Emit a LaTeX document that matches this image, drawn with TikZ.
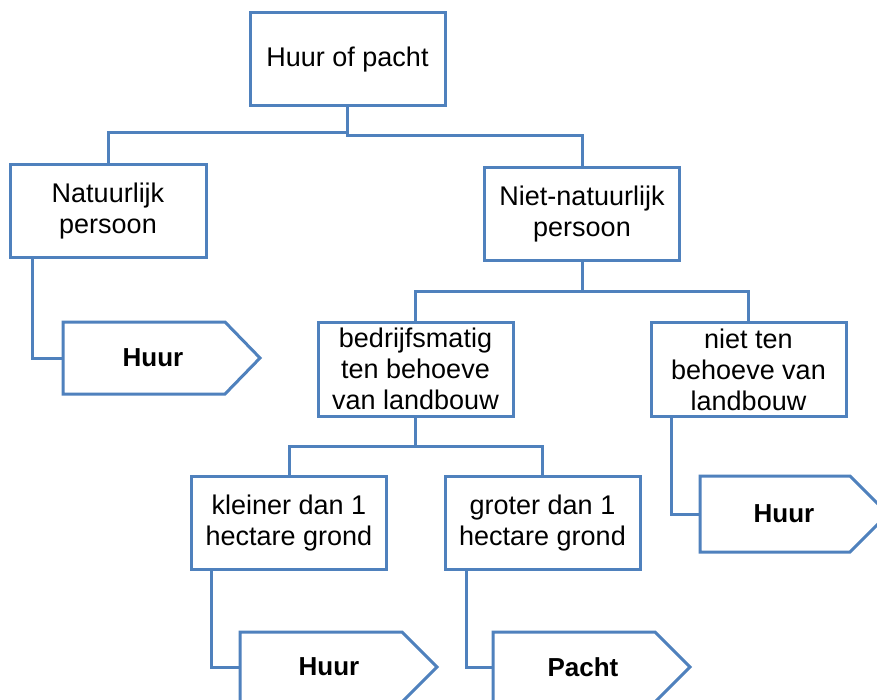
\documentclass[tikz,border=0pt]{standalone}
\usepackage{fontspec}
\setmainfont{Liberation Sans}
\definecolor{boxblue}{RGB}{79,129,189}
\tikzset{
  box/.style={rectangle, draw=boxblue, fill=white, line width=3pt, outer sep=0pt,
    minimum width=195pt, minimum height=93pt, inner sep=0pt, align=center,
    font=\fontsize{27}{31}\selectfont},
  pentbody/.style={rectangle, outer sep=0pt, inner sep=0pt, align=center,
    font=\fontsize{26}{30}\selectfont\bfseries},
  conn/.style={draw=boxblue, line width=3pt},
}
\begin{document}
\begin{tikzpicture}[x=1pt,y=-1pt]
\useasboundingbox (0,0) rectangle (877,700);
\fill[white] (0,0) rectangle (877,700);

\node[box] (root) at (347.5,59.5) {Huur of pacht};
\node[box, minimum width=196pt] (nat) at (108,211) {Natuurlijk\\persoon};
\node[box] (niet) at (582,214) {Niet-natuurlijk\\persoon};
\node[box, minimum height=94pt] (bedr) at (415.5,369) {bedrijfsmatig\\ten behoeve\\van landbouw};
\node[box, minimum height=94pt] (nietten) at (748.5,369.5) {niet ten\\behoeve van\\landbouw};
\node[box] (kleiner) at (289,523) {kleiner dan 1\\hectare grond};
\node[box] (groter) at (542.5,523) {groter dan 1\\hectare grond};

% pentagons (bodies)
\node[pentbody, minimum width=162pt, minimum height=72pt, anchor=west] (h1) at (63,358) {\hspace*{18pt}Huur};
\node[pentbody, minimum width=150pt, minimum height=76pt, anchor=west] (h2) at (700,514) {\hspace*{18pt}Huur};
\node[pentbody, minimum width=162pt, minimum height=70pt, anchor=west] (h3) at (240,667) {\hspace*{16pt}Huur};
\node[pentbody, minimum width=162pt, minimum height=70pt, anchor=west] (p4) at (493,667) {\hspace*{18pt}Pacht};

\draw[conn, line join=miter] (h1.north west) -- (h1.north east) -- ([xshift=35pt]h1.east) -- (h1.south east) -- (h1.south west) -- cycle;
\draw[conn, line join=miter] (h2.north west) -- (h2.north east) -- ([xshift=38pt]h2.east) -- (h2.south east) -- (h2.south west) -- cycle;
\draw[conn, line join=miter] (h3.north west) -- (h3.north east) -- ([xshift=35pt]h3.east) -- (h3.south east) -- (h3.south west) -- cycle;
\draw[conn, line join=miter] (p4.north west) -- (p4.north east) -- ([xshift=35pt]p4.east) -- (p4.south east) -- (p4.south west) -- cycle;

% connectors
\draw[conn] (root.south) -- ++(0,27) -| (nat.north);
\draw[conn] (root.south) -- ++(0,30) -| (niet.north);
\draw[conn] (niet.south) -- ++(0,31) -| (bedr.north);
\draw[conn] (niet.south) -- ++(0,31) -| (nietten.north);
\draw[conn] (bedr.south) -- ++(0,30) -| (kleiner.north);
\draw[conn] (bedr.south) -- ++(0,30) -| (groter.north);
\draw[conn] ([xshift=22pt]nat.south west) |- (h1.west);
\draw[conn] ([xshift=20pt]nietten.south west) |- (h2.west);
\draw[conn] ([xshift=20pt]kleiner.south west) |- (h3.west);
\draw[conn] ([xshift=21pt]groter.south west) |- (p4.west);
\end{tikzpicture}
\end{document}
